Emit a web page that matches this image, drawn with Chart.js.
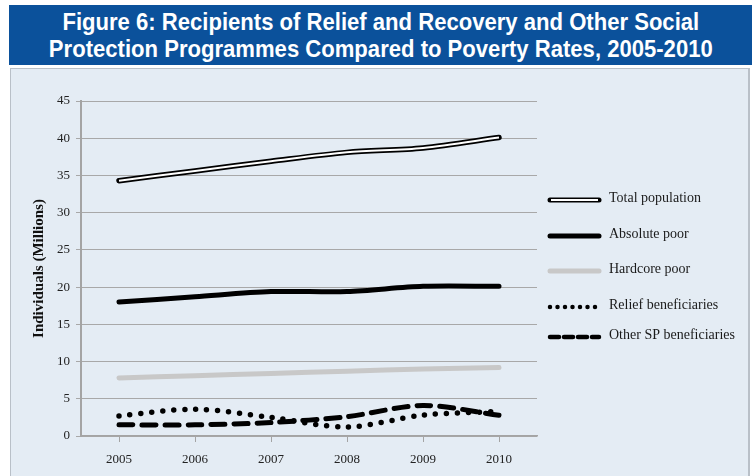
<!DOCTYPE html>
<html>
<head>
<meta charset="utf-8">
<script src="https://cdn.jsdelivr.net/npm/chart.js@4"></script>
<style>
  body { margin: 0; background: #fff; width: 752px; height: 476px; overflow: hidden; position: relative; }
  #banner {
    position: absolute; left: 9px; top: 5px; width: 743px; height: 60px;
    background: #0b519b; color: #fff; text-align: center;
    font: bold 24px "Liberation Sans", Arial, sans-serif; line-height: 27px;
    padding-top: 3px; box-sizing: border-box; overflow: hidden;
  }
  #banner span { display: inline-block; transform: scaleX(0.92); transform-origin: 50% 50%; white-space: nowrap; }
  #panel {
    position: absolute; left: 10px; top: 68px; width: 740px; height: 420px;
    background: #e4ecf4; border: 1px solid #b9c0c8; border-right-width: 2px; box-sizing: border-box;
  }
  #wrap { position: absolute; left: 0; top: 0; width: 740px; height: 408px; }
</style>
</head>
<body>
<div id="banner"><span>Figure 6: Recipients of Relief and Recovery and Other Social<br>Protection Programmes Compared to Poverty Rates, 2005-2010</span></div>
<div id="panel"><div id="wrap"><canvas id="chart"></canvas></div></div>
<script>
// ── data ──
const years        = ["2005", "2006", "2007", "2008", "2009", "2010"];
const totalPop     = [34.3, 35.6, 36.9, 38.1, 38.7, 40.1];
const absolutePoor = [18.0, 18.7, 19.4, 19.4, 20.1, 20.1];
const hardcorePoor = [7.8, 8.1, 8.4, 8.7, 9.0, 9.2];
const reliefBen    = [2.7, 3.6, 2.5, 1.2, 2.8, 3.3];
const otherSP      = [1.5, 1.5, 1.8, 2.6, 4.1, 2.8];
const legendNames  = ["Total population", "Absolute poor", "Hardcore poor", "Relief beneficiaries", "Other SP beneficiaries"];

const SERIF = "'Liberation Serif', 'Times New Roman', serif";

function makeDS(label, data, color, width, order, extra = {}) {
  return Object.assign({
    label, data, order,
    borderColor: color,
    borderWidth: width,
    fill: false,
    tension: 0.3,
    pointRadius: 0,
    borderCapStyle: "round",
    borderJoinStyle: "round"
  }, extra);
}

// lower order = drawn on top
const datasets = [
  makeDS(legendNames[0], totalPop, "#000", 5.5, 2),
  makeDS(legendNames[0] + " inner", totalPop, "#fff", 2, 1, { borderCapStyle: "butt" }),
  makeDS(legendNames[1], absolutePoor, "#000", 5, 3),
  makeDS(legendNames[2], hardcorePoor, "#c8c8c8", 5, 4),
  makeDS(legendNames[3], reliefBen, "#000", 5.5, 5, { borderDash: [0, 11] }),
  makeDS(legendNames[4], otherSP, "#000", 5, 6, { borderDash: [14, 9] })
];

// ── custom legend on the right ──
const legendPlugin = {
  id: "sideLegend",
  afterDraw(chart) {
    const ctx = chart.ctx;
    const rows = [131, 167, 202, 238, 268];
    const x0 = 539, x1 = 588;
    ctx.save();
    rows.forEach((y, i) => {
      ctx.beginPath();
      ctx.lineCap = "round";
      ctx.setLineDash([]);
      if (i === 0) {
        ctx.strokeStyle = "#000"; ctx.lineWidth = 5;
        ctx.moveTo(x0, y); ctx.lineTo(x1, y); ctx.stroke();
        ctx.beginPath(); ctx.strokeStyle = "#fff"; ctx.lineWidth = 2; ctx.lineCap = "butt";
        ctx.moveTo(x0 + 1, y); ctx.lineTo(x1 - 1, y); ctx.stroke();
      } else if (i === 1) {
        ctx.strokeStyle = "#000"; ctx.lineWidth = 5;
        ctx.moveTo(x0, y); ctx.lineTo(x1, y); ctx.stroke();
      } else if (i === 2) {
        ctx.strokeStyle = "#c8c8c8"; ctx.lineWidth = 5;
        ctx.moveTo(x0, y); ctx.lineTo(x1, y); ctx.stroke();
      } else if (i === 3) {
        ctx.strokeStyle = "#000"; ctx.lineWidth = 4.5; ctx.setLineDash([0, 7.5]);
        ctx.moveTo(x0, y); ctx.lineTo(x1 - 2, y); ctx.stroke();
      } else {
        ctx.strokeStyle = "#000"; ctx.lineWidth = 4.5; ctx.setLineDash([9, 5]);
        ctx.moveTo(x0, y); ctx.lineTo(x1, y); ctx.stroke();
      }
      ctx.setLineDash([]);
      ctx.fillStyle = "#1a1a1a";
      ctx.font = "14px " + SERIF;
      ctx.textBaseline = "middle";
      ctx.fillText(legendNames[i], 598, y - 2);
    });
    ctx.restore();
  }
};

new Chart(document.getElementById("chart"), {
  type: "line",
  data: { labels: years, datasets },
  options: {
    responsive: true,
    maintainAspectRatio: false,
    animation: false,
    layout: { padding: { left: 17, right: 214, top: 32, bottom: 0 } },
    plugins: { legend: { display: false }, tooltip: { enabled: false } },
    scales: {
      x: {
        offset: true,
        grid: { drawOnChartArea: false, drawTicks: true, tickLength: 6, color: "#a4a4a4", lineWidth: 1 },
        border: { color: "#a4a4a4", width: 1.5 },
        ticks: { color: "#222", font: { family: SERIF, size: 13 }, padding: 10, maxRotation: 0 },
        afterFit: s => { s.height = 41; }
      },
      y: {
        min: 0, max: 45,
        grid: { color: "#a8a8a8", lineWidth: 1, drawTicks: true, tickLength: 5 },
        border: { color: "#a4a4a4", width: 2 },
        ticks: { stepSize: 5, color: "#222", font: { family: SERIF, size: 13 }, padding: 6 },
        title: { display: true, text: "Individuals (Millions)", color: "#111", font: { family: SERIF, size: 15, weight: "bold" }, padding: 2 },
        afterFit: s => { s.width = 53; }
      }
    }
  },
  plugins: [legendPlugin]
});
</script>
</body>
</html>
